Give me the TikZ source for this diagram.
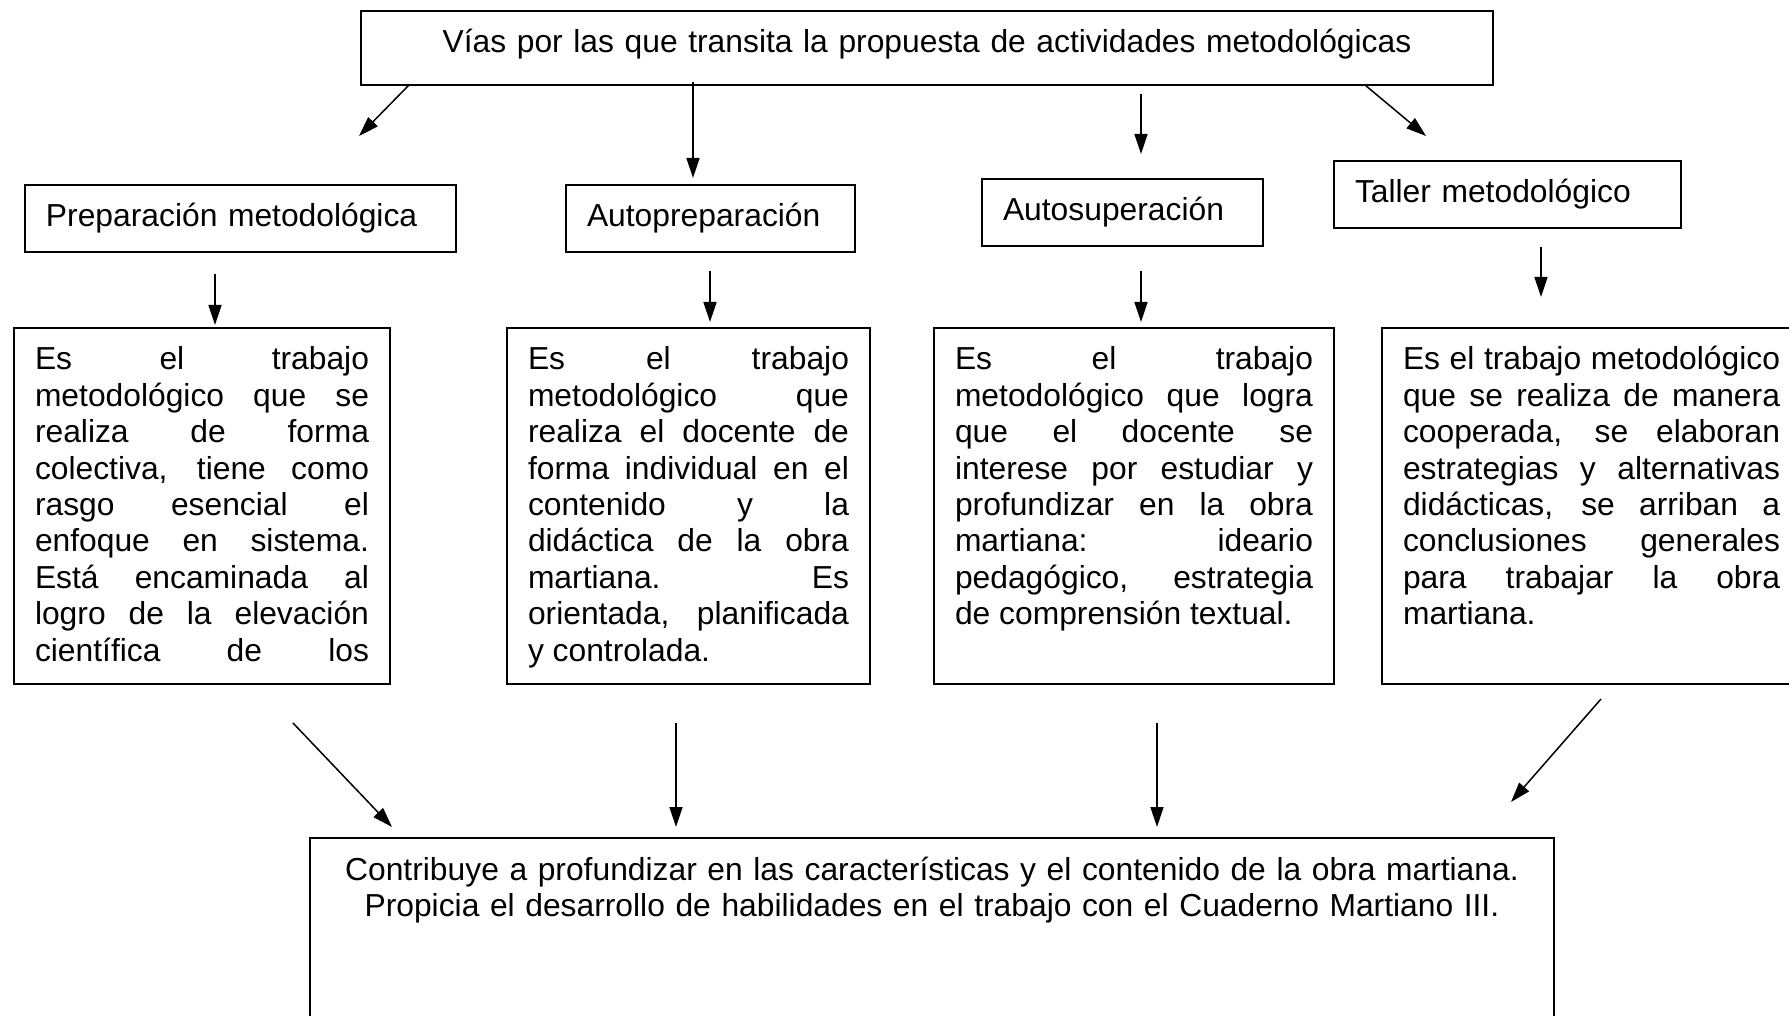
\documentclass[tikz,border=0pt]{standalone}
\usepackage{fontspec}
\setmainfont{Liberation Sans}
\usepackage{tikz}
\usetikzlibrary{arrows.meta}
\tolerance=10000
\hbadness=10000

\tikzset{
  caja/.style={draw, line width=1pt, anchor=north west,
               inner xsep=10.5pt, inner ysep=0pt, text height=21pt,
               font=\fontsize{15.9pt}{18.2pt}\selectfont},
  via/.style={caja, align=left, text depth=12.5pt},
  texto/.style={caja, align=justify, text depth=157pt}
}

\begin{document}
\begin{tikzpicture}[->,
            >={Triangle[length=10pt,width=6.5pt]},
            x=0.5pt,
            y=-0.5pt,
            line width=0.75pt]

        \useasboundingbox (0,0) rectangle (1789,1016);
        \clip (0,0) rectangle (1789,1016);

        \node[caja, align=center, text width=545pt, text depth=16pt] (vias) at (360,10)
            {Vías por las que transita la propuesta de actividades metodológicas};

        \node[via, text width=194.5pt] (prep)     at (24,184)   {Preparación metodológica};
        \node[via, text width=123.5pt] (autoprep) at (565,184)  {Autopreparación};
        \node[via, text width=119.5pt] (autosup)  at (981,178)  {Autosuperación};
        \node[via, text width=152.5pt] (taller)   at (1333,160) {Taller metodológico};

        \node[texto, text width=167pt] (defprep) at (13,327)
            {Es el trabajo\linebreak metodológico que se\linebreak realiza de forma\linebreak
             colectiva, tiene como\linebreak rasgo esencial el\linebreak enfoque en sistema.\linebreak
             Está encaminada al\linebreak logro de la elevación\linebreak científica\hfill de\hfill los};
        \node[texto, text width=160.5pt] (defautoprep) at (506,327)
            {Es el trabajo\linebreak metodológico que\linebreak realiza el docente de\linebreak
             forma individual en el\linebreak contenido y la\linebreak didáctica de la obra\linebreak
             martiana. Es\linebreak orientada, planificada\linebreak y controlada.};
        \node[texto, text width=179pt] (defautosup) at (933,327)
            {Es el trabajo\linebreak metodológico que logra\linebreak que el docente se\linebreak
             interese por estudiar y\linebreak profundizar en la obra\linebreak martiana: ideario\linebreak
             pedagógico, estrategia\linebreak de comprensión textual.};
        \node[texto, text width=188.5pt] (deftaller) at (1381,327)
            {Es el trabajo metodológico\linebreak que se realiza de manera\linebreak cooperada, se elaboran\linebreak
             estrategias y alternativas\linebreak didácticas, se arriban a\linebreak conclusiones generales\linebreak
             para trabajar la obra\linebreak martiana.};

        \node[caja, align=center, text width=601pt, text depth=79pt] (contrib) at (309,837)
            {Contribuye a profundizar en las características y el contenido de la obra martiana.\\
             Propicia el desarrollo de habilidades en el trabajo con el Cuaderno Martiano III.};

        \coordinate (t1a) at (409,85);   \coordinate (t1b) at (359,136);
        \coordinate (t2a) at (693,82);   \coordinate (t2b) at (693,178);
        \coordinate (t3a) at (1141,94);  \coordinate (t3b) at (1141,154);
        \coordinate (t4a) at (1365,85);  \coordinate (t4b) at (1426,136);
        \coordinate (m1a) at (215,274);  \coordinate (m1b) at (215,325);
        \coordinate (m2a) at (710,271);  \coordinate (m2b) at (710,322);
        \coordinate (m3a) at (1141,271); \coordinate (m3b) at (1141,322);
        \coordinate (m4a) at (1541,247); \coordinate (m4b) at (1541,297);
        \coordinate (b1a) at (293,723);  \coordinate (b1b) at (392,827);
        \coordinate (b2a) at (676,723);  \coordinate (b2b) at (676,827);
        \coordinate (b3a) at (1157,723); \coordinate (b3b) at (1157,827);
        \coordinate (b4a) at (1601,699); \coordinate (b4b) at (1511,802);

        \path (t1a) edge (t1b)
              (t2a) edge (t2b)
              (t3a) edge (t3b)
              (t4a) edge (t4b)
              (m1a) edge (m1b)
              (m2a) edge (m2b)
              (m3a) edge (m3b)
              (m4a) edge (m4b)
              (b1a) edge (b1b)
              (b2a) edge (b2b)
              (b3a) edge (b3b)
              (b4a) edge (b4b);

    \end{tikzpicture}
\end{document}
